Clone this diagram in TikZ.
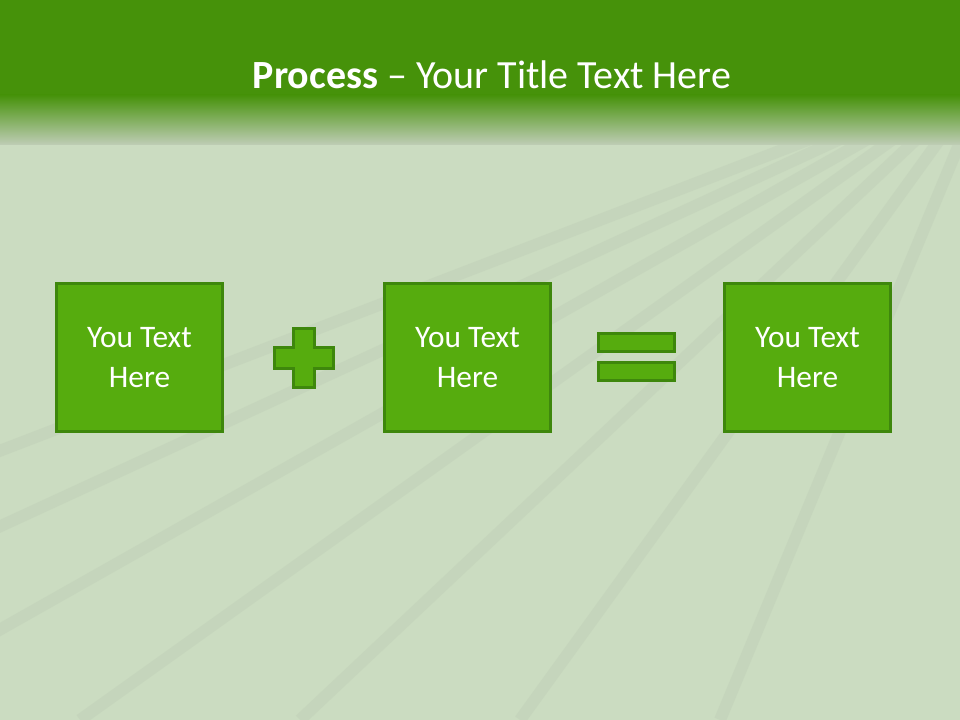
\documentclass[tikz,border=0pt]{standalone}
\usepackage{fontspec}
\setmainfont{Carlito}
\usepackage{tikz}
\usetikzlibrary{positioning}

\definecolor{hdrgreen}{HTML}{46920A}
\definecolor{hdrfade}{HTML}{BFCDB6}
\definecolor{bgpale}{HTML}{CBDCC1}
\definecolor{bgline}{HTML}{B9C8B2}
\definecolor{boxfill}{HTML}{56AC0E}
\definecolor{boxedge}{HTML}{3E870C}

\tikzset{
  textbox/.style={draw=boxedge,line width=2.25pt,fill=boxfill,minimum width=124.5pt,
    minimum height=110.25pt,align=center,text=white,font=\fontsize{23.5}{30}\selectfont},
  eqbar/.style={draw=boxedge,line width=2.25pt,fill=boxfill,minimum width=57pt,
    minimum height=13.5pt,inner sep=0pt},
}

\begin{document}
\begin{tikzpicture}[x=0.75pt,y=-0.75pt]
\useasboundingbox (0,0) rectangle (960,720);

% Background and header band
\fill[bgpale] (0,0) rectangle (960,720);
\foreach \ex in {-700,-420,-160,80,300,520,720}{
  \draw[bgline,line width=9pt,opacity=0.3] (990,70) -- (\ex,720);
}
\fill[hdrgreen] (0,0) rectangle (960,95);
\shade[top color=hdrgreen,bottom color=hdrfade] (0,95) rectangle (960,145);
\node[text=white,font=\fontsize{30}{36}\selectfont] (title) at (492,75)
  {\textbf{Process} -- Your Title Text Here};

% Boxes
\node[textbox] (T1) at (139.5,357.5) {You Text\\Here};
\node[textbox] (T2) at (467.5,357.5) {You Text\\Here};
\node[textbox] (T3) at (807.5,357.5) {You Text\\Here};

% Plus sign
\draw[draw=boxedge,line width=2.25pt,fill=boxfill]
  (293.5,328.5) -- (314.5,328.5) -- (314.5,347.5) -- (333.5,347.5) -- (333.5,368.5)
  -- (314.5,368.5) -- (314.5,387.5) -- (293.5,387.5) -- (293.5,368.5) -- (274.5,368.5)
  -- (274.5,347.5) -- (293.5,347.5) -- cycle;

% Equals sign
\node[eqbar] (eq1) at (636.5,342.2) {};
\node[eqbar] (eq2) at (636.5,371.2) {};
\end{tikzpicture}
\end{document}
